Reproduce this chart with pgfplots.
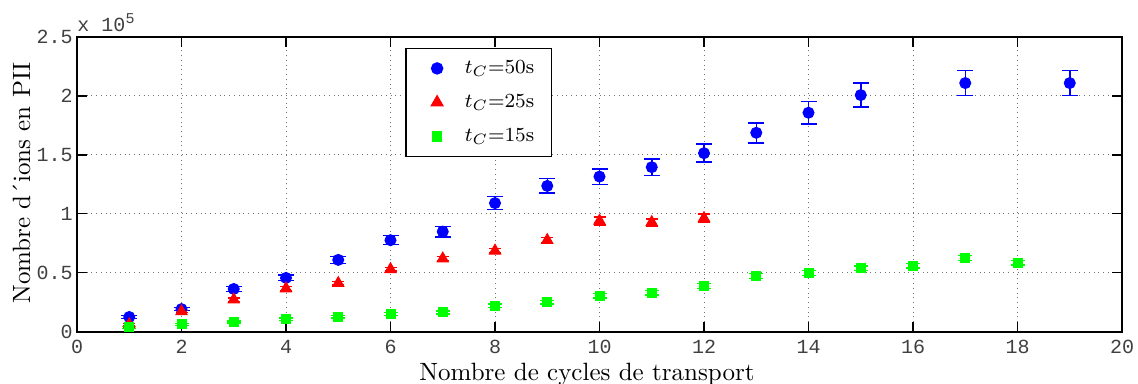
\documentclass[border=0pt]{standalone}
\usepackage{fontspec}
\setmonofont{Liberation Mono}
\usepackage{pgfplots}
\pgfplotsset{compat=1.18}
\definecolor{mblue}{RGB}{0,0,255}
\definecolor{mred}{RGB}{255,0,0}
\definecolor{mgreen}{RGB}{0,255,0}
\begin{document}
\begin{tikzpicture}
\path[use as bounding box] (-30.8pt,-20.6pt) rectangle (424.4pt,132.6pt);
\begin{axis}[
  scale only axis, width=418pt, height=117.8pt,
  xmin=0, xmax=20, ymin=0, ymax=250000,
  xtick={0,2,...,20}, ytick={0,50000,100000,150000,200000,250000},
  yticklabels={0,0.5,1,1.5,2,2.5},
  scaled y ticks=false,
  /pgf/number format/assume math mode=true,
  tick label style={font=\fontsize{8}{9}\ttfamily, text=black!75},
  yticklabel style={anchor=east, inner sep=1.5pt},
  tick align=inside, major tick length=4pt,
  every tick/.style={black, line width=0.6pt},
  axis line style={line width=0.8pt},
  grid=major,
  major grid style={black!55, line width=0.4pt, dash pattern=on 0.4pt off 1.5pt},
  xlabel={Nombre de cycles de transport},
  ylabel={Nombre d\'{}ions en PII},
  every axis x label/.style={at={(axis description cs:0.488,-0.145)},anchor=center},
  every axis y label/.style={at={(axis description cs:-0.053,0.505)},anchor=center,rotate=90},
  legend style={at={(rel axis cs:0.314,0.963)}, anchor=north west, draw=black, line width=0.6pt,
     font=\footnotesize, row sep=2.8pt, inner xsep=5pt, inner ysep=2.5pt},
  legend image code/.code={\draw[#1] plot coordinates {(0pt,0pt)}; \path (-7.2pt,0pt) (8.8pt,0pt);},
  legend cell align=left,
  after end axis/.code={\node[anchor=base west, inner sep=0pt, font=\fontsize{8}{9}\ttfamily, text=black!75]
    at ([yshift=2.4pt]rel axis cs:0,1) {x 10\textsuperscript{5}};},
]
\addplot[only marks, mark=*, mark size=2.2pt, color=mblue,
  error bars/.cd, y dir=both, y explicit,
  error bar style={line width=0.6pt, mblue},
  error mark options={rotate=90, mblue, mark size=3.2pt, line width=0.6pt}]
  table[x=x, y=y, y error=e] {
x y e
1 12300 1300
2 19000 1300
3 36100 2100
4 45500 2400
5 60800 3000
6 77500 3800
7 84800 4500
8 109000 5500
9 123600 6200
10 131500 6500
11 139500 7100
12 151400 7700
13 168700 8500
14 185700 9500
15 200700 10200
17 210900 10500
19 210900 10500
};
\addlegendentry{$t_C$=50s}
\addplot[only marks, mark=triangle*, mark size=2.6pt, color=mred,
  error bars/.cd, y dir=both, y explicit,
  error bar style={line width=0.6pt, mred},
  error mark options={rotate=90, mred, mark size=2.4pt, line width=0.6pt}]
  table[x=x, y=y, y error=e] {
x y e
1 6000 800
2 17000 1000
3 27000 1500
4 36500 1500
5 41000 1500
6 52800 1500
7 61800 1700
8 68500 2000
9 77500 2200
10 93900 3500
11 92700 3000
12 96100 3500
};
\addlegendentry{$t_C$=25s}
\addplot[only marks, mark=square*, mark size=1.8pt, color=mgreen,
  error bars/.cd, y dir=both, y explicit,
  error bar style={line width=0.6pt, mgreen},
  error mark options={rotate=90, mgreen, mark size=2.8pt, line width=0.6pt}]
  table[x=x, y=y, y error=e] {
x y e
1 3500 800
2 6000 800
3 8000 900
4 10500 1000
5 12500 1200
6 15000 1300
7 16300 1300
8 22000 1500
9 25000 1500
10 30400 2000
11 32900 1800
12 38600 2000
13 47100 2000
14 49700 2000
15 53600 2000
16 55900 2000
17 62400 2200
18 58400 2000
};
\addlegendentry{$t_C$=15s}
\end{axis}
\end{tikzpicture}
\end{document}
